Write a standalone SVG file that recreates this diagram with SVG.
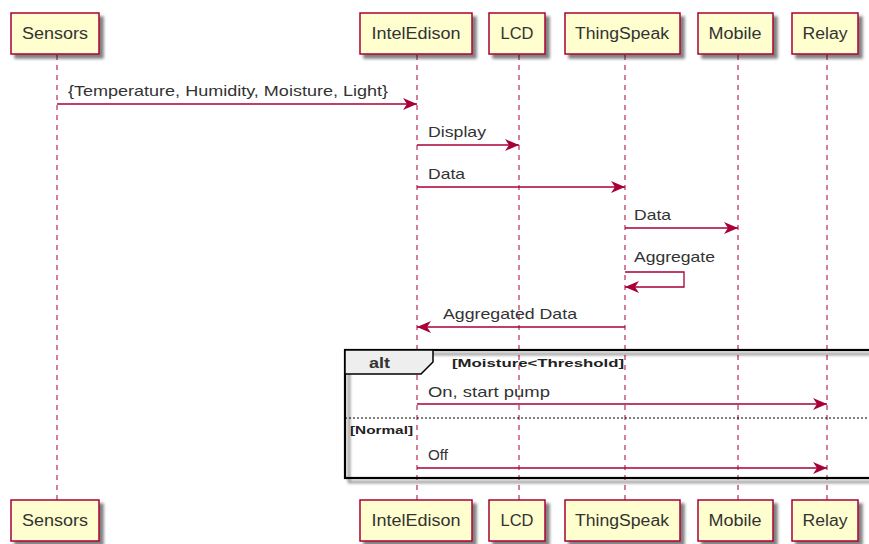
<svg xmlns="http://www.w3.org/2000/svg" width="869" height="544" viewBox="0 0 869 544">
<style>
.box{fill:#FEFECE;stroke:#A80036;stroke-width:1.5}
.pt{font-family:"Liberation Sans",Arial,sans-serif;font-size:16px;fill:#333;text-anchor:middle}
.life{stroke:#A80036;stroke-width:1;stroke-dasharray:5,5;fill:none}
.msg{stroke:#A80036;stroke-width:1.3;fill:none}
.mt{font-family:"Liberation Sans",Arial,sans-serif;font-size:14.5px;fill:#333}
.bt{font-family:"Liberation Sans",Arial,sans-serif;font-size:11px;font-weight:bold;fill:#222}
</style>
<defs>
<filter id="sh" x="-20%" y="-20%" width="150%" height="150%">
<feGaussianBlur in="SourceAlpha" stdDeviation="1.8"/>
<feOffset dx="4" dy="4" result="b"/>
<feComponentTransfer><feFuncA type="linear" slope="0.5"/></feComponentTransfer>
<feMerge><feMergeNode/><feMergeNode in="SourceGraphic"/></feMerge>
</filter>
<marker id="ah" markerUnits="userSpaceOnUse" markerWidth="15" markerHeight="13" refX="14" refY="6" orient="auto">
<path d="M0,0 L14,6 L0,12 L4,6 Z" fill="#A80036"/>
</marker>
</defs>

<g id="lifelines">
<line class="life" x1="57" y1="55" x2="57" y2="500"/>
<line class="life" x1="417" y1="55" x2="417" y2="500"/>
<line class="life" x1="519" y1="55" x2="519" y2="500"/>
<line class="life" x1="625" y1="55" x2="625" y2="500"/>
<line class="life" x1="738" y1="55" x2="738" y2="500"/>
<line class="life" x1="827" y1="55" x2="827" y2="500"/>
</g>

<g id="alt-frame">
<rect x="345" y="350" width="540" height="128" fill="none" stroke="#000" stroke-width="2.2" filter="url(#sh)"/>
<polygon points="345,350 433,350 433,362 421,374 345,374" fill="#EEEEEE" stroke="#000" stroke-width="1.5"/>
<text class="mt" x="369" y="368" font-weight="bold" textLength="21" lengthAdjust="spacingAndGlyphs">alt</text>
<text class="bt" x="452" y="367" textLength="172" lengthAdjust="spacingAndGlyphs">[Moisture&lt;Threshold]</text>
<line x1="345" y1="418" x2="869" y2="418" stroke="#000" stroke-width="1" stroke-dasharray="2,2"/>
<text class="bt" x="350" y="434" textLength="63" lengthAdjust="spacingAndGlyphs">[Normal]</text>
</g>

<g id="connectors">
<line class="msg" x1="57" y1="104" x2="417" y2="104" marker-end="url(#ah)"/>
<text class="mt" x="68" y="96" textLength="320" lengthAdjust="spacingAndGlyphs">{Temperature, Humidity, Moisture, Light}</text>
<line class="msg" x1="417" y1="145" x2="519" y2="145" marker-end="url(#ah)"/>
<text class="mt" x="428" y="137" textLength="58" lengthAdjust="spacingAndGlyphs">Display</text>
<line class="msg" x1="417" y1="187" x2="625" y2="187" marker-end="url(#ah)"/>
<text class="mt" x="428" y="179" textLength="37" lengthAdjust="spacingAndGlyphs">Data</text>
<line class="msg" x1="625" y1="228" x2="738" y2="228" marker-end="url(#ah)"/>
<text class="mt" x="634" y="220" textLength="37" lengthAdjust="spacingAndGlyphs">Data</text>
<polyline class="msg" points="625,272 684,272 684,287 625,287" marker-end="url(#ah)"/>
<text class="mt" x="634" y="262" textLength="81" lengthAdjust="spacingAndGlyphs">Aggregate</text>
<line class="msg" x1="625" y1="327" x2="417" y2="327" marker-end="url(#ah)"/>
<text class="mt" x="443" y="319" textLength="134" lengthAdjust="spacingAndGlyphs">Aggregated Data</text>
<line class="msg" x1="417" y1="404" x2="827" y2="404" marker-end="url(#ah)"/>
<text class="mt" x="428" y="397" textLength="122" lengthAdjust="spacingAndGlyphs">On, start pump</text>
<line class="msg" x1="417" y1="468" x2="827" y2="468" marker-end="url(#ah)"/>
<text class="mt" x="428" y="460" textLength="20" lengthAdjust="spacingAndGlyphs">Off</text>
</g>

<g id="sensors-top"><rect class="box" x="11" y="13" width="88" height="41" filter="url(#sh)"/><text class="pt" x="55" y="39" textLength="66" lengthAdjust="spacingAndGlyphs">Sensors</text></g>
<g id="inteledison-top"><rect class="box" x="360" y="13" width="112" height="41" filter="url(#sh)"/><text class="pt" x="416" y="39" textLength="89" lengthAdjust="spacingAndGlyphs">IntelEdison</text></g>
<g id="lcd-top"><rect class="box" x="489" y="13" width="56" height="41" filter="url(#sh)"/><text class="pt" x="517" y="39" textLength="33" lengthAdjust="spacingAndGlyphs">LCD</text></g>
<g id="thingspeak-top"><rect class="box" x="565" y="13" width="115" height="41" filter="url(#sh)"/><text class="pt" x="622" y="39" textLength="94" lengthAdjust="spacingAndGlyphs">ThingSpeak</text></g>
<g id="mobile-top"><rect class="box" x="698" y="13" width="75" height="41" filter="url(#sh)"/><text class="pt" x="735" y="39" textLength="53" lengthAdjust="spacingAndGlyphs">Mobile</text></g>
<g id="relay-top"><rect class="box" x="792" y="13" width="66" height="41" filter="url(#sh)"/><text class="pt" x="825" y="39" textLength="45" lengthAdjust="spacingAndGlyphs">Relay</text></g>

<g id="sensors-bottom"><rect class="box" x="11" y="500" width="88" height="41" filter="url(#sh)"/><text class="pt" x="55" y="526" textLength="66" lengthAdjust="spacingAndGlyphs">Sensors</text></g>
<g id="inteledison-bottom"><rect class="box" x="360" y="500" width="112" height="41" filter="url(#sh)"/><text class="pt" x="416" y="526" textLength="89" lengthAdjust="spacingAndGlyphs">IntelEdison</text></g>
<g id="lcd-bottom"><rect class="box" x="489" y="500" width="56" height="41" filter="url(#sh)"/><text class="pt" x="517" y="526" textLength="33" lengthAdjust="spacingAndGlyphs">LCD</text></g>
<g id="thingspeak-bottom"><rect class="box" x="565" y="500" width="115" height="41" filter="url(#sh)"/><text class="pt" x="622" y="526" textLength="94" lengthAdjust="spacingAndGlyphs">ThingSpeak</text></g>
<g id="mobile-bottom"><rect class="box" x="698" y="500" width="75" height="41" filter="url(#sh)"/><text class="pt" x="735" y="526" textLength="53" lengthAdjust="spacingAndGlyphs">Mobile</text></g>
<g id="relay-bottom"><rect class="box" x="792" y="500" width="66" height="41" filter="url(#sh)"/><text class="pt" x="825" y="526" textLength="45" lengthAdjust="spacingAndGlyphs">Relay</text></g>
</svg>
